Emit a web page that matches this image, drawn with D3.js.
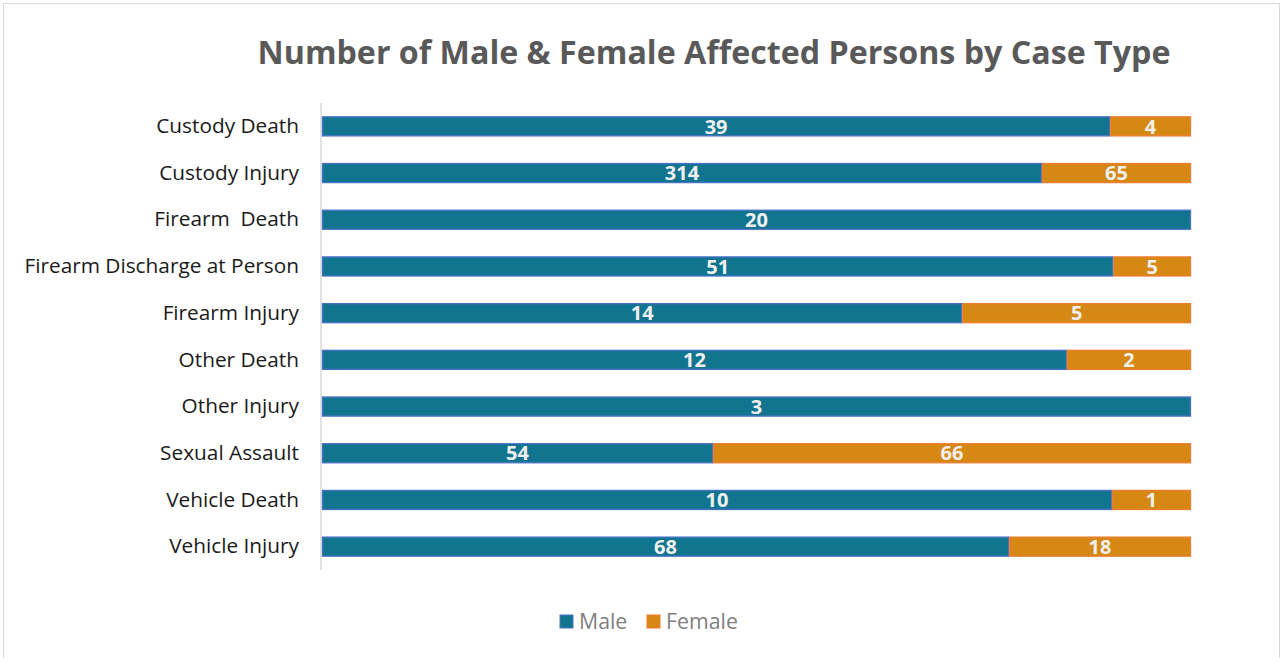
<!DOCTYPE html>
<html>
<head>
<meta charset="utf-8">
<script src="https://cdn.jsdelivr.net/npm/d3@7"></script>
<style>
    body { margin: 0; background: #fff; }
    svg { display: block; font-family: 'Open Sans', 'Noto Sans', sans-serif; }
    .tick text { white-space: pre; }
</style>
</head>
<body>
<svg id="chart" width="1281" height="658"></svg>
<script>
    const categories = ["Custody Death", "Custody Injury", "Firearm  Death", "Firearm Discharge at Person",
        "Firearm Injury", "Other Death", "Other Injury", "Sexual Assault", "Vehicle Death", "Vehicle Injury"];
    const maleValues = [39, 314, 20, 51, 14, 12, 3, 54, 10, 68];
    const femaleValues = [4, 65, 0, 5, 5, 2, 0, 66, 1, 18];
    const seriesNames = ["Male", "Female"];

    const fills = { Male: "#127590", Female: "#D58813" };
    const strokes = { Male: "#4A72C6", Female: "#EE7D31" };

    const svg = d3.select("#chart");
    const margin = { left: 322, right: 90, top: 103, bottom: 88 };

    // frame
    svg.append("rect")
        .attr("x", 3.5).attr("y", 3.5)
        .attr("width", 1276).attr("height", 660)
        .attr("fill", "none").attr("stroke", "#d9d9d9");

    svg.append("text")
        .attr("x", 714).attr("y", 64)
        .attr("text-anchor", "middle")
        .attr("font-size", 32.2).attr("font-weight", "bold")
        .attr("fill", "#595959")
        .text("Number of Male & Female Affected Persons by Case Type");

    const rows = categories.map((c, i) => ({ cat: c, Male: maleValues[i], Female: femaleValues[i] }));
    rows.forEach(r => { r.total = r.Male + r.Female; });

    const stack = d3.stack().keys(seriesNames)
        .value((d, k) => d[k] / d.total);
    const layers = stack(rows);

    const x = d3.scaleLinear().domain([0, 1]).range([margin.left, 1191]);
    const y = d3.scaleBand().domain(categories)
        .range([margin.top, 570]).paddingInner(0.57).paddingOuter(0.285);

    // category axis
    const yAxis = svg.append("g")
        .attr("transform", `translate(${margin.left - 1},0)`)
        .call(d3.axisLeft(y).tickSize(0).tickPadding(22));
    yAxis.select(".domain").attr("stroke", "#d9d9d9").attr("stroke-width", 1.5)
        .attr("d", `M0,${margin.top}V570`);
    yAxis.selectAll("text")
        .attr("font-size", 20.8).attr("fill", "#1a1a1a")
        .attr("font-family", "'Open Sans', sans-serif");

    const groups = svg.selectAll("g.layer").data(layers).join("g")
        .attr("class", "layer")
        .attr("fill", d => fills[d.key])
        .attr("stroke", d => strokes[d.key]);

    groups.selectAll("rect").data(d => d.map(p => Object.assign(p, { key: d.key })))
        .join("rect")
        .filter(d => d[1] > d[0])
        .attr("x", d => x(d[0]) + 0.5)
        .attr("y", d => y(d.data.cat) + 0.5)
        .attr("width", d => x(d[1]) - x(d[0]) - 1)
        .attr("height", y.bandwidth() - 1)
        .attr("stroke-width", 1.3);

    const labels = [];
    layers.forEach(l => l.forEach(p => { if (p.data[l.key] > 0) labels.push({ p: p, v: p.data[l.key] }); }));
    svg.append("g").selectAll("text").data(labels).join("text")
        .attr("x", d => (x(d.p[0]) + x(d.p[1])) / 2)
        .attr("y", d => y(d.p.data.cat) + y.bandwidth() / 2)
        .attr("dy", "0.36em")
        .attr("text-anchor", "middle")
        .attr("font-size", 20).attr("font-weight", "bold")
        .attr("fill", "#F0F0F0")
        .text(d => d.v);

    // legend
    const legend = svg.append("g").attr("transform", "translate(0,622)");
    const legendX = { Male: 560, Female: 647 };
    seriesNames.forEach(s => {
        legend.append("rect")
            .attr("x", legendX[s]).attr("y", -7)
            .attr("width", 13).attr("height", 13)
            .attr("fill", fills[s]).attr("stroke", strokes[s]);
        legend.append("text")
            .attr("x", legendX[s] + 19).attr("y", 0).attr("dy", "0.35em")
            .attr("font-size", 21.3).attr("fill", "#7f7f7f")
            .text(s);
    });
</script>
</body>
</html>
